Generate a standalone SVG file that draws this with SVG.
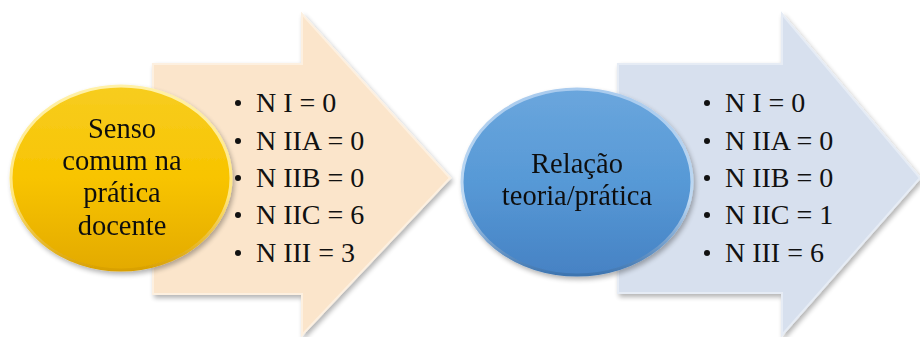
<svg xmlns="http://www.w3.org/2000/svg" width="920" height="337" viewBox="0 0 920 337">
<defs>
<style>
.lbl{font-family:"Liberation Serif","Times New Roman",serif;font-size:28.5px;fill:#111;text-anchor:middle}
.item{font-family:"Liberation Serif","Times New Roman",serif;font-size:28px;fill:#111}
.bul{fill:#111}
</style>
<linearGradient id="gold" x1="0" y1="0" x2="0" y2="1">
<stop offset="0" stop-color="#F7CD20"/>
<stop offset="0.5" stop-color="#F8C400"/>
<stop offset="1" stop-color="#E3AA00"/>
</linearGradient>
<linearGradient id="blue" x1="0" y1="0" x2="0" y2="1">
<stop offset="0" stop-color="#6AA6DD"/>
<stop offset="0.5" stop-color="#5799D6"/>
<stop offset="1" stop-color="#4682C4"/>
</linearGradient>
<linearGradient id="rimG" x1="0" y1="0" x2="0" y2="1">
<stop offset="0" stop-color="#FFF1A8"/>
<stop offset="0.6" stop-color="#FFE680"/>
<stop offset="1" stop-color="#D9A000"/>
</linearGradient>
<linearGradient id="rimB" x1="0" y1="0" x2="0" y2="1">
<stop offset="0" stop-color="#A9CBEE"/>
<stop offset="0.6" stop-color="#BFD9F2"/>
<stop offset="1" stop-color="#3C74B0"/>
</linearGradient>
<filter id="sh" x="-10%" y="-10%" width="130%" height="130%">
<feGaussianBlur in="SourceAlpha" stdDeviation="2.5"/>
<feOffset dx="2" dy="3"/>
<feComponentTransfer><feFuncA type="linear" slope="0.3"/></feComponentTransfer>
<feMerge><feMergeNode/><feMergeNode in="SourceGraphic"/></feMerge>
</filter>
</defs>

<g id="arrow1" filter="url(#sh)">
<path d="M153,64 H302 V14 L450,178 L302,335 V294 H153 Z" fill="#FBE5CB" stroke="#FDF0E0" stroke-width="2"/>
</g>
<g id="arrow2" filter="url(#sh)">
<path d="M618,64 H782 V14 L920,178 L782,335 V293 H618 Z" fill="#D7E0EE" stroke="#E6ECF5" stroke-width="2"/>
</g>

<g id="node1" filter="url(#sh)">
<ellipse cx="121" cy="178" rx="110" ry="92" fill="url(#gold)" stroke="url(#rimG)" stroke-width="3"/>
<text class="lbl" x="122" y="138">Senso</text>
<text class="lbl" x="122" y="170">comum na</text>
<text class="lbl" x="122" y="202">prática</text>
<text class="lbl" x="122" y="235">docente</text>
</g>
<g id="list1">
<circle class="bul" cx="238" cy="103" r="3"/>
<text class="item" x="256" y="112">N I = 0</text>
<circle class="bul" cx="238" cy="141" r="3"/>
<text class="item" x="256" y="150">N IIA = 0</text>
<circle class="bul" cx="238" cy="178" r="3"/>
<text class="item" x="256" y="187">N IIB = 0</text>
<circle class="bul" cx="238" cy="215" r="3"/>
<text class="item" x="256" y="224">N IIC = 6</text>
<circle class="bul" cx="238" cy="253" r="3"/>
<text class="item" x="256" y="262">N III = 3</text>
</g>

<g id="node2" filter="url(#sh)">
<ellipse cx="577" cy="182" rx="115" ry="93" fill="url(#blue)" stroke="url(#rimB)" stroke-width="3"/>
<text class="lbl" x="577" y="173">Relação</text>
<text class="lbl" x="577" y="205">teoria/prática</text>
</g>
<g id="list2">
<circle class="bul" cx="707" cy="103" r="3"/>
<text class="item" x="725" y="112">N I = 0</text>
<circle class="bul" cx="707" cy="141" r="3"/>
<text class="item" x="725" y="150">N IIA = 0</text>
<circle class="bul" cx="707" cy="178" r="3"/>
<text class="item" x="725" y="187">N IIB = 0</text>
<circle class="bul" cx="707" cy="215" r="3"/>
<text class="item" x="725" y="224">N IIC = 1</text>
<circle class="bul" cx="707" cy="253" r="3"/>
<text class="item" x="725" y="262">N III = 6</text>
</g>
<g id="connectors"/>
</svg>
